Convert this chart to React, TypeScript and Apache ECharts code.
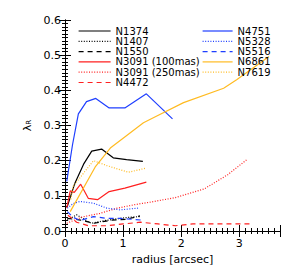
import React, { useEffect, useRef } from "react";
import * as echarts from "echarts";

// ---- data (radius in arcsec, lambda_R) ----
const n1374R = [0.04, 0.17, 0.32, 0.46, 0.63, 0.83, 1.06, 1.34];
const n1374L = [0.07, 0.136, 0.19, 0.227, 0.233, 0.208, 0.203, 0.198];

const n1407R = [0.04, 0.2, 0.45, 0.7, 0.95, 1.1, 1.29];
const n1407L = [0.031, 0.046, 0.022, 0.03, 0.036, 0.039, 0.041];

const n1550R = [0.04, 0.27, 0.5, 0.8, 1.05, 1.29];
const n1550L = [0.036, 0.031, 0.022, 0.031, 0.033, 0.043];

const n3091aR = [0.03, 0.09, 0.16, 0.27, 0.4, 0.56, 0.76, 1.03, 1.4];
const n3091aL = [0.065, 0.114, 0.11, 0.133, 0.093, 0.089, 0.112, 0.122, 0.139];

const n3091bR = [0.03, 0.3, 0.6, 0.9, 1.2, 1.5, 1.9, 2.4, 2.8, 3.13];
const n3091bL = [0.022, 0.04, 0.05, 0.065, 0.075, 0.083, 0.095, 0.12, 0.16, 0.203];

const n4472R = [0.05, 0.2, 0.4, 0.7, 1.0, 1.3, 1.6, 1.9, 2.2, 2.5, 2.8, 3.2];
const n4472L = [0.045, 0.025, 0.015, 0.015, 0.02, 0.025, 0.02, 0.015, 0.02, 0.02, 0.02, 0.02];

const n4751R = [0.03, 0.13, 0.23, 0.37, 0.53, 0.76, 1.03, 1.4, 1.85];
const n4751L = [0.141, 0.246, 0.333, 0.368, 0.377, 0.35, 0.35, 0.39, 0.319];

const n5328R = [0.04, 0.14, 0.26, 0.49, 0.72, 0.95, 1.26];
const n5328L = [0.065, 0.078, 0.084, 0.079, 0.065, 0.06, 0.065];

const n5516R = [0.04, 0.14, 0.26, 0.49, 0.72, 0.95, 1.32];
const n5516L = [0.055, 0.039, 0.03, 0.041, 0.036, 0.036, 0.031];

const n6861R = [0.09, 0.52, 0.78, 1.35, 1.58, 2.04, 2.73, 2.96, 3.51];
const n6861L = [0.055, 0.182, 0.236, 0.308, 0.327, 0.365, 0.406, 0.431, 0.496];

const n7619R = [0.1, 0.14, 0.49, 0.72, 1.09, 1.4];
const n7619L = [0.09, 0.127, 0.2, 0.186, 0.167, 0.179];

const xTicks = { min: 0, max: 3.7, interval: 1 };
const yTicks = { min: 0, max: 0.6, interval: 0.1 };

const BLACK = "#000000";
const RED = "#ff2020";
const BLUE = "#1f3fff";
const ORANGE = "#ffbb22";
const DOT = [1, 1.6];
const DASH = [5, 4];

const seriesDefs = [
  { name: "N1374", r: n1374R, l: n1374L, color: BLACK, type: "solid" as any },
  { name: "N1407", r: n1407R, l: n1407L, color: BLACK, type: DOT },
  { name: "N1550", r: n1550R, l: n1550L, color: BLACK, type: DASH },
  { name: "N3091 (100mas)", r: n3091aR, l: n3091aL, color: RED, type: "solid" },
  { name: "N3091 (250mas)", r: n3091bR, l: n3091bL, color: RED, type: DOT },
  { name: "N4472", r: n4472R, l: n4472L, color: RED, type: DASH },
  { name: "N4751", r: n4751R, l: n4751L, color: BLUE, type: "solid" },
  { name: "N5328", r: n5328R, l: n5328L, color: BLUE, type: DOT },
  { name: "N5516", r: n5516R, l: n5516L, color: BLUE, type: DASH },
  { name: "N6861", r: n6861R, l: n6861L, color: ORANGE, type: "solid" },
  { name: "N7619", r: n7619R, l: n7619L, color: ORANGE, type: DOT },
];

const leftNames = ["N1374", "N1407", "N1550", "N3091 (100mas)", "N3091 (250mas)", "N4472"];
const rightNames = ["N4751", "N5328", "N5516", "N6861", "N7619"];

const FONT = "DejaVu Sans";

export default function App() {
  const ref = useRef<HTMLDivElement>(null);
  useEffect(() => {
    if (!ref.current) return;
    const chart = echarts.init(ref.current, null, { renderer: "svg" });
    const axisCommon = {
      type: "value" as const,
      axisLine: { show: true, lineStyle: { color: "#000", width: 1 } },
      axisTick: { show: true, inside: true, length: 6, lineStyle: { color: "#000" } },
      minorTick: { show: true, splitNumber: 10, length: 3, lineStyle: { color: "#000" } },
      splitLine: { show: false },
    };
    const legendCommon = {
      orient: "vertical" as const,
      padding: 0,
      itemHeight: 8,
      itemGap: 0.3,
      selectedMode: false,
      itemStyle: { opacity: 0 },
      lineStyle: { width: 1.2 },
      textStyle: { fontSize: 10, lineHeight: 8, fontFamily: FONT, color: "#000", fontWeight: "normal" },
    };
    chart.setOption({
      animation: false,
      backgroundColor: "#fff",
      grid: { left: 65, right: 20, top: 20, bottom: 44 },
      legend: [
        { ...legendCommon, data: leftNames, left: 78, top: 26, itemWidth: 32 },
        { ...legendCommon, data: rightNames, left: 202, top: 26, itemWidth: 30 },
      ],
      xAxis: [
        {
          ...axisCommon,
          ...xTicks,
          position: "bottom",
          name: "radius [arcsec]",
          nameLocation: "middle",
          nameGap: 22,
          nameTextStyle: { fontSize: 11, fontFamily: FONT, color: "#000" },
          axisLabel: {
            margin: 7,
            fontSize: 11,
            fontFamily: FONT,
            color: "#000",
            formatter: (v: number) => (Number.isInteger(v) ? String(v) : ""),
          },
        },
        { ...axisCommon, ...xTicks, position: "top", axisLabel: { show: false } },
      ],
      yAxis: [
        {
          ...axisCommon,
          ...yTicks,
          position: "left",
          name: "{l|λ}{s|R}",
          nameLocation: "middle",
          nameGap: 32,
          nameRotate: 90,
          nameTextStyle: {
            rich: {
              l: { fontSize: 11, fontFamily: FONT, color: "#000" },
              s: { fontSize: 7, fontFamily: FONT, color: "#000", verticalAlign: "bottom", padding: [4, 0, 0, 0] },
            },
          },
          axisLabel: {
            margin: 4,
            fontSize: 11,
            fontFamily: FONT,
            color: "#000",
            formatter: (v: number) => v.toFixed(1),
          },
        },
        { ...axisCommon, ...yTicks, position: "right", axisLabel: { show: false } },
      ],
      series: seriesDefs.map((s) => ({
        name: s.name,
        type: "line",
        xAxisIndex: 0,
        yAxisIndex: 0,
        symbol: "none",
        showSymbol: false,
        color: s.color,
        lineStyle: { color: s.color, width: 1.2, type: s.type },
        data: s.r.map((r, i) => [r, s.l[i]]),
      })),
    });
    return () => chart.dispose();
  }, []);
  return <div ref={ref} style={{ position: "fixed", left: 0, top: 0, width: 300, height: 275 }} />;
}
